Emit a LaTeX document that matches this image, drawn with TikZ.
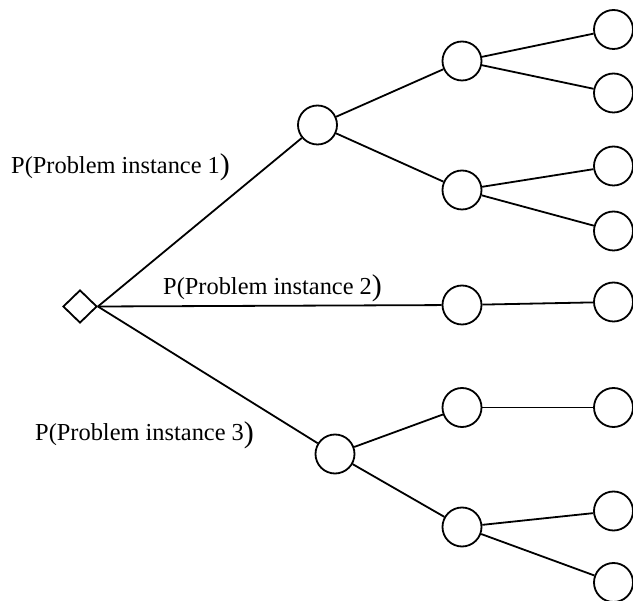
\documentclass[tikz,border=0pt]{standalone}
\usepackage{fontspec}
\setmainfont{Liberation Serif}
\usetikzlibrary{shapes.geometric}
\begin{document}
\begin{tikzpicture}[x=1pt,y=-1pt,
  chance/.style={circle,draw,line width=1.8pt,minimum size=39pt,inner sep=0pt},
  decision/.style={diamond,draw,line width=1.8pt,minimum width=34pt,minimum height=33pt,inner sep=0pt},
  branch/.style={line width=1.8pt},
  problab/.style={anchor=base west,inner sep=0pt,font=\fontsize{24.4}{28}\selectfont}]
\useasboundingbox (0,0) rectangle (633,601);
% decision node
\node[decision] (d) at (80,306.5) {};
% first level
\node[chance] (a) at (317.5,125) {};
\node[chance] (b) at (462,305) {};
\node[chance] (c) at (335,454) {};
% second level
\node[chance] (a1) at (462,61) {};
\node[chance] (a2) at (462,190) {};
\node[chance] (c1) at (462,407.5) {};
\node[chance] (c2) at (462,527) {};
% leaves
\node[chance] (r1) at (613.5,29.5) {};
\node[chance] (r2) at (613.5,93) {};
\node[chance] (r3) at (613.5,166) {};
\node[chance] (r4) at (613.5,231) {};
\node[chance] (r5) at (613.5,302) {};
\node[chance] (r6) at (613.5,407.5) {};
\node[chance] (r7) at (613.5,511) {};
\node[chance] (r8) at (613.5,582.5) {};
% branches
\draw[branch] (d.east) -- (a);
\draw[branch] (d.east) -- (b);
\draw[branch] (d.east) -- (c);
\draw[branch] (a) -- (a1);
\draw[branch] (a) -- (a2);
\draw[branch] (a1) -- (r1);
\draw[branch] (a1) -- (r2);
\draw[branch] (a2) -- (r3);
\draw[branch] (a2) -- (r4);
\draw[branch] (b) -- (r5);
\draw[branch] (c) -- (c1);
\draw[branch] (c) -- (c2);
\draw[branch] (c1) -- (r6);
\draw[branch] (c2) -- (r7);
\draw[branch] (c2) -- (r8);
% probability labels
\newcommand{\bigclose}{\raisebox{-1.5pt}{\fontsize{30}{30}\selectfont )}}
\node[problab] (p1) at (11,173.3) {P(Problem instance 1\bigclose};
\node[problab] (p2) at (163,294.5) {P(Problem instance 2\bigclose};
\node[problab] (p3) at (35,440.7) {P(Problem instance 3\bigclose};
\end{tikzpicture}
\end{document}
